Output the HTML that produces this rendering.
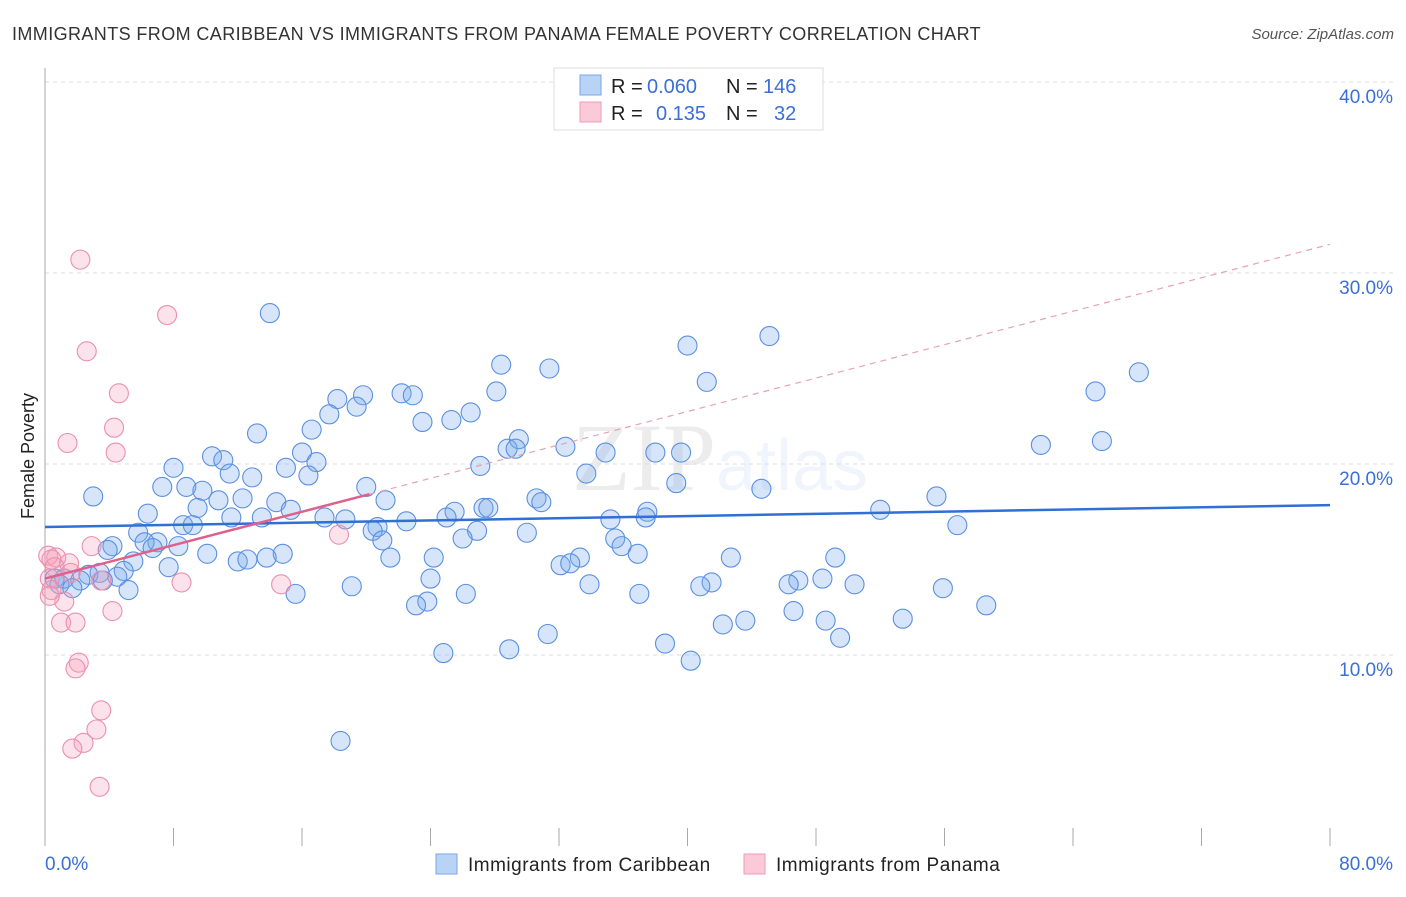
<!DOCTYPE html>
<html><head><meta charset="utf-8"><style>
body{margin:0;background:#fff;font-family:"Liberation Sans",sans-serif}
</style></head><body>
<svg width="1406" height="892" xmlns="http://www.w3.org/2000/svg" font-family="Liberation Sans, sans-serif">
<text x="12" y="40" font-size="18" letter-spacing="0.4" fill="#333">IMMIGRANTS FROM CARIBBEAN VS IMMIGRANTS FROM PANAMA FEMALE POVERTY CORRELATION CHART</text>
<text x="1394" y="39" font-size="15" fill="#555" font-style="italic" text-anchor="end">Source: ZipAtlas.com</text>
<text x="720" y="490" font-size="96" fill="#000" opacity="0.07" text-anchor="middle" font-family="Liberation Serif, serif">ZIP<tspan fill="#3a6fd8" opacity="1" font-family="Liberation Sans, sans-serif" font-size="72">atlas</tspan></text>
<g id="grid"></g>
<g id="axes"></g>
<g id="pts"></g>
<g id="trend"></g>
<text transform="translate(34,456) rotate(-90)" font-size="18" fill="#222" text-anchor="middle">Female Poverty</text>
<g font-size="20">
<rect x="554" y="68" width="269" height="62" fill="#fff" stroke="#ddd"/>
<rect x="580" y="75" width="21" height="20" fill="#b9d3f5" stroke="#7aa6e8"/>
<rect x="580" y="102" width="21" height="20" fill="#fcc9d8" stroke="#f09ab4"/>
<text x="611" y="93" fill="#222">R =</text>
<text x="647" y="93" fill="#3a6fd8">0.060</text>
<text x="726" y="93" fill="#222">N =</text>
<text x="763" y="93" fill="#3a6fd8">146</text>
<text x="611" y="120" fill="#222">R =</text>
<text x="656" y="120" fill="#3a6fd8">0.135</text>
<text x="726" y="120" fill="#222">N =</text>
<text x="774" y="120" fill="#3a6fd8">32</text>
</g>
<g>
<rect x="436" y="854" width="21" height="20" fill="#b9d3f5" stroke="#7aa6e8"/>
<text x="468" y="871" font-size="19" letter-spacing="0.5" fill="#222">Immigrants from Caribbean</text>
<rect x="744" y="854" width="21" height="20" fill="#fcc9d8" stroke="#f09ab4"/>
<text x="776" y="871" font-size="19" letter-spacing="0.5" fill="#222">Immigrants from Panama</text>
</g>
</svg>
<script>
const yTicks=[10,20,30,40];
const yTickLabels=["10.0%","20.0%","30.0%","40.0%"];
const xTicks=[0,8,16,24,32,40,48,56,64,72,80];
const blueX=[14.0,45.1,40.0,28.4,31.4,68.1,41.2,28.1,65.4,22.2,22.9,19.8,18.2,19.4,26.5,17.7,23.5,25.3,16.6,13.2,29.5,65.8,62.0,28.8,29.3,32.4,16.0,34.9,38.0,39.6,10.4,11.1,16.9,15.0,27.1,8.0,11.5,12.9,16.4,33.7,7.3,8.8,20.0,39.3,44.6,9.8,3.0,12.3,10.8,21.2,55.5,14.4,30.6,30.9,9.5,15.3,27.3,27.6,25.5,37.5,52.0,6.4,11.6,13.5,17.4,18.7,25.0,37.4,22.5,35.2,8.6,9.2,20.7,20.4,56.8,5.8,30.0,26.9,21.0,26.0,35.5,7.0,6.2,8.3,35.9,6.7,4.2,3.9,10.1,14.8,36.9,21.5,24.2,33.3,42.7,49.2,5.5,12.0,12.6,13.8,32.1,32.7,7.7,4.9,3.4,2.7,4.5,24.0,48.4,46.9,41.5,0.6,1.2,2.2,3.6,0.9,1.7,19.1,33.9,40.8,46.3,50.4,55.9,5.2,15.6,26.2,37.0,23.8,23.1,58.6,46.6,48.6,53.4,43.6,42.2,31.3,49.5,38.6,28.9,24.8,40.2,18.4];
const blueY=[27.9,26.7,26.2,25.2,25.0,24.8,24.3,23.8,23.8,23.7,23.6,23.6,23.4,23.0,22.7,22.6,22.2,22.3,21.8,21.6,21.3,21.2,21.0,20.8,20.8,20.9,20.6,20.6,20.6,20.6,20.4,20.2,20.1,19.8,19.9,19.8,19.5,19.3,19.4,19.5,18.8,18.8,18.8,19.0,18.7,18.6,18.3,18.2,18.1,18.1,18.3,18.0,18.2,18.0,17.7,17.6,17.7,17.7,17.5,17.5,17.6,17.4,17.2,17.2,17.2,17.1,17.2,17.2,17.0,17.1,16.8,16.8,16.7,16.5,16.8,16.4,16.4,16.5,16.0,16.1,16.1,15.9,15.9,15.7,15.7,15.6,15.7,15.5,15.3,15.3,15.3,15.1,15.1,15.1,15.1,15.1,14.9,14.9,15.0,15.1,14.7,14.8,14.6,14.4,14.3,14.2,14.1,14.0,14.0,13.9,13.8,14.0,14.0,13.9,13.9,13.7,13.5,13.6,13.7,13.6,13.7,13.7,13.5,13.4,13.2,13.2,13.2,12.8,12.6,12.6,12.3,11.8,11.9,11.8,11.6,11.1,10.9,10.6,10.3,10.1,9.7,5.5];
const pinkX=[2.2,7.6,2.6,4.6,4.3,1.4,4.4,18.3,2.9,0.2,0.7,0.4,1.5,0.6,1.6,0.3,3.5,8.5,14.7,0.4,1.2,4.2,1.0,1.9,2.1,1.9,3.5,3.2,2.4,1.7,3.4,0.3];
const pinkY=[30.7,27.8,25.9,23.7,21.9,21.1,20.6,16.3,15.7,15.2,15.1,15.0,14.8,14.6,14.3,14.0,13.9,13.8,13.7,13.4,12.8,12.3,11.7,11.7,9.6,9.3,7.1,6.1,5.4,5.1,3.1,13.1];
const blueTrend=[16.7,17.85];
const pinkTrend=[14.0,31.5];
const pinkSolidEnd=20.2;
const NS="http://www.w3.org/2000/svg";
const X0=45,X1=1330,Y0=846,PXY=19.1;
const sx=v=>X0+(v/80)*(X1-X0);
const sy=v=>Y0-v*PXY;
function mk(tag,attrs,parent){const e=document.createElementNS(NS,tag);for(const k in attrs)e.setAttribute(k,attrs[k]);document.getElementById(parent).appendChild(e);return e;}
yTicks.forEach((t,i)=>{
 const l=mk('line',{x1:X0,x2:1393,y1:sy(t),y2:sy(t),stroke:'#ddd','stroke-dasharray':'4,4'},'grid');
 
 
 const tx=mk('text',{x:1393,y:sy(t)+21,'font-size':19,fill:'#3a6fd8','text-anchor':'end'},'grid');
 tx.textContent=yTickLabels[i];
 
 
});
const ax=mk('line',{x1:X0,x2:X0,y1:68,y2:Y0,stroke:'#aaa'},'axes');


xTicks.forEach(t=>{
 const l=mk('line',{x1:sx(t),x2:sx(t),y1:828,y2:Y0,stroke:'#aaa'},'axes');
 
 
});
const xl0=mk('text',{x:45,y:870,'font-size':19,fill:'#3a6fd8'},'axes');xl0.textContent='0.0%';


const xl1=mk('text',{x:1393,y:870,'font-size':19,fill:'#3a6fd8','text-anchor':'end'},'axes');xl1.textContent='80.0%';


blueX.forEach((v,i)=>{
 const c=mk('circle',{cx:sx(v),cy:sy(blueY[i]),r:9.5,fill:'rgba(120,170,235,0.3)',stroke:'#5b90e0','stroke-width':1.1},'pts');
 
 
});
pinkX.forEach((v,i)=>{
 const c=mk('circle',{cx:sx(v),cy:sy(pinkY[i]),r:9.5,fill:'rgba(245,160,185,0.3)',stroke:'#ec8fae','stroke-width':1.1},'pts');
 
 
});
const bt=mk('line',{x1:sx(0),y1:sy(blueTrend[0]),x2:sx(80),y2:sy(blueTrend[1]),stroke:'#2f6fd6','stroke-width':2.5},'trend');


const pAt=x=>pinkTrend[0]+(pinkTrend[1]-pinkTrend[0])*x/80;
const pd=mk('line',{x1:sx(pinkSolidEnd),y1:sy(pAt(pinkSolidEnd)),x2:sx(80),y2:sy(pinkTrend[1]),stroke:'#e9a0b8','stroke-width':1.2,'stroke-dasharray':'6,5'},'trend');


const ps=mk('line',{x1:sx(0),y1:sy(pinkTrend[0]),x2:sx(pinkSolidEnd),y2:sy(pAt(pinkSolidEnd)),stroke:'#e0608c','stroke-width':2.5},'trend');


</script>
</body></html>
